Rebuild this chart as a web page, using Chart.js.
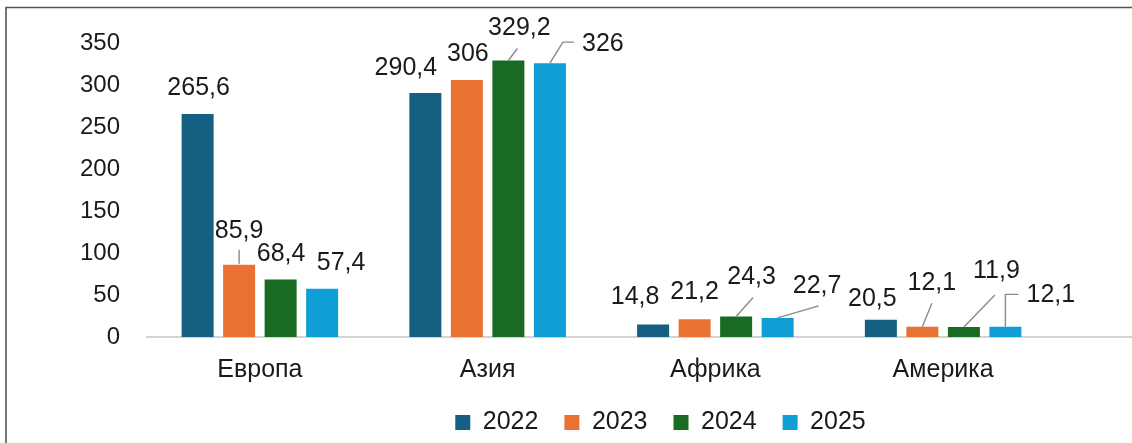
<!DOCTYPE html>
<html><head><meta charset="utf-8">
<script src="https://cdn.jsdelivr.net/npm/chart.js@4.4.1/dist/chart.umd.min.js"></script>
<style>html,body{margin:0;padding:0;background:#fff}#wrap{width:1132px;height:443px;position:relative}</style>
</head><body><div id="wrap"><canvas id="c"></canvas></div>
<script>
// ---- data ----
const categories = ['Европа', 'Азия', 'Африка', 'Америка'];
const years = ['2022', '2023', '2024', '2025'];
const values2022 = [265.6, 290.4, 14.8, 20.5];
const values2023 = [85.9, 306, 21.2, 12.1];
const values2024 = [68.4, 329.2, 24.3, 11.9];
const values2025 = [57.4, 326, 22.7, 12.1];
const yTickValues = [0, 50, 100, 150, 200, 250, 300, 350];

// ---- styling ----
const colors = ['#156082', '#E97132', '#196B24', '#0F9ED5'];
const FONT = "'Liberation Sans', Arial, sans-serif";
const TEXT = '#1a1a1a';
// data-label placement relative to bar top: [dx, dy, leader polyline]
const labelPlacement = [
  [[1, -26], [-19.5, -25], [-18, -27], [-8.5, -20.5]],
  [[0, -34, [[0, -1], [0, -15]]], [1, -26], [0, -27], [9.5, -44, [[0, 0], [9.5, -23.5]]]],
  [[0.5, -25], [11, -32, [[0, 0], [9, -12]]], [15.5, -39, [[0, 0], [17, -19]]], [32.5, -56, [[0, 0], [31, -32]]]],
  [[19, -25.5], [53, -19, [[0, 0], [13, -21], [24, -21]]], [39.5, -31.5, [[0, 0], [41, -12]]], [45.5, -32, [[0, 0], [0, -32.5], [13, -32.5]]]]
];

const seriesValues = [values2022, values2023, values2024, values2025];
const datasets = years.map((y, i) => ({
  label: y,
  data: seriesValues[i],
  backgroundColor: colors[i],
  borderWidth: 0,
  categoryPercentage: 0.729,
  barPercentage: 0.771
}));

const fmt = v => String(v).replace('.', ',');

const framePlugin = {
  id: 'frame',
  beforeDraw(chart) {
    const ctx = chart.ctx;
    ctx.save();
    ctx.fillStyle = '#fff';
    ctx.fillRect(0, 0, chart.width, chart.height);
    ctx.strokeStyle = '#555';
    ctx.lineWidth = 1.6;
    ctx.beginPath();
    ctx.moveTo(6, chart.height);
    ctx.lineTo(6, 7.5);
    ctx.lineTo(chart.width, 7.5);
    ctx.stroke();
    ctx.restore();
  },
  beforeDatasetsDraw(chart) {
    const ctx = chart.ctx;
    const y0 = chart.scales.y.getPixelForValue(0);
    ctx.save();
    ctx.strokeStyle = '#c4c4c4';
    ctx.lineWidth = 1.5;
    ctx.beginPath();
    ctx.moveTo(chart.chartArea.left, y0);
    ctx.lineTo(chart.width, y0);
    ctx.stroke();
    ctx.restore();
  }
};

const labelPlugin = {
  id: 'barLabels',
  afterDatasetsDraw(chart) {
    const ctx = chart.ctx;
    ctx.save();
    ctx.font = '25px ' + FONT;
    ctx.textAlign = 'center';
    ctx.textBaseline = 'middle';
    chart.data.datasets.forEach((ds, di) => {
      const meta = chart.getDatasetMeta(di);
      meta.data.forEach((bar, i) => {
        const p = labelPlacement[di][i];
        const leader = p[2];
        if (leader) {
          ctx.strokeStyle = '#8a8a8a';
          ctx.lineWidth = 1.4;
          ctx.beginPath();
          leader.forEach((pt, k) => {
            const x = bar.x + pt[0], y = bar.y + pt[1];
            if (k === 0) ctx.moveTo(x, y); else ctx.lineTo(x, y);
          });
          ctx.stroke();
        }
        ctx.fillStyle = TEXT;
        ctx.fillText(fmt(ds.data[i]), bar.x + p[0], bar.y + p[1]);
      });
    });
    ctx.restore();
  }
};

const legendShift = {
  id: 'legendShift',
  afterLayout(chart) {
    const lg = chart.legend;
    if (!lg) return;
    lg.left += 127;
    lg.right += 127;
    lg.top -= 19;
  }
};

new Chart(document.getElementById('c'), {
  type: 'bar',
  data: { labels: categories, datasets },
  options: {
    responsive: true,
    maintainAspectRatio: false,
    animation: false,
    layout: { padding: { left: 10, right: 75, top: 43, bottom: 0 } },
    plugins: {
      tooltip: { enabled: false },
      legend: {
        position: 'bottom',
        maxHeight: 40,
        labels: {
          font: { family: FONT, size: 25 },
          color: TEXT,
          boxWidth: 15,
          boxHeight: 15,
          padding: 26
        }
      }
    },
    scales: {
      x: {
        grid: { display: false, drawTicks: false },
        border: { display: false },
        ticks: { font: { family: FONT, size: 25 }, color: TEXT, padding: 18 }
      },
      y: {
        min: 0, max: 350,
        afterBuildTicks(scale) { scale.ticks = yTickValues.map(v => ({ value: v })); },
        afterFit(scale) { scale.width = 136; },
        grid: { display: false, drawTicks: false },
        border: { display: false },
        ticks: { font: { family: FONT, size: 24 }, color: TEXT, padding: 26 }
      }
    }
  },
  plugins: [framePlugin, labelPlugin, legendShift]
});
</script>
</body></html>
